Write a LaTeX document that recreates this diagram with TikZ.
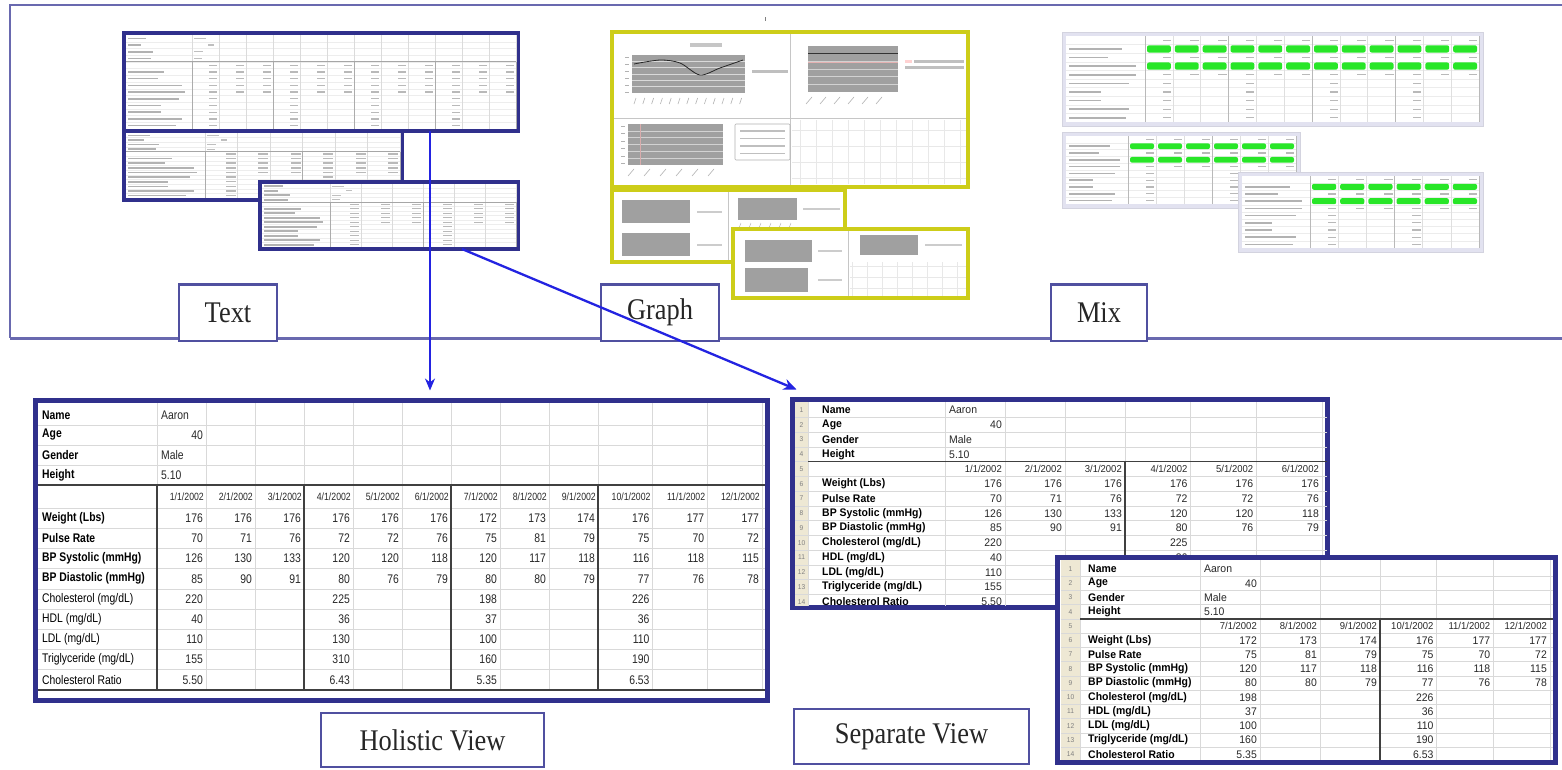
\documentclass[tikz,border=0pt]{standalone}
\usepackage{fontspec}
\setmainfont{Liberation Serif}
\newfontfamily\tabfont[FakeStretch=0.83]{Liberation Sans}
\newfontfamily\sepfont[FakeStretch=0.95]{Liberation Sans}
\newfontfamily\labfont[FakeStretch=0.88]{Liberation Serif}
\usetikzlibrary{arrows.meta,calc}
\definecolor{frameblue}{RGB}{48,48,140}
\definecolor{outerc}{RGB}{105,105,175}
\definecolor{labc}{RGB}{80,80,160}
\definecolor{arrc}{RGB}{35,35,225}
\definecolor{ylw}{RGB}{205,205,25}
\definecolor{grn}{RGB}{40,230,40}
\definecolor{lav}{RGB}{226,226,240}
\definecolor{beige}{RGB}{238,232,212}
\definecolor{chartg}{RGB}{160,160,160}
\definecolor{txtc}{RGB}{40,40,40}
\tikzset{
  thumbbox/.style={draw=frameblue, line width=3.5pt, fill=white, inner sep=0pt, outer sep=0pt},
  graphbox/.style={draw=ylw, line width=3.5pt, fill=white, inner sep=0pt, outer sep=0pt},
  mixbox/.style={draw=lav!85!gray, line width=1pt, fill=lav, inner sep=0pt, outer sep=0pt},
  bigframe/.style={draw=frameblue, line width=5pt, fill=white, inner sep=0pt, outer sep=0pt},
  viewlabel/.style={draw=labc, line width=1.5pt, fill=white, font=\labfont\fontsize{30}{30}\selectfont, text=black!85, inner sep=0pt, outer sep=0pt},
  gridl/.style={draw=gray!30, line width=0.5pt},
  thickl/.style={draw=black!75, line width=1.3pt},
  hlab/.style={font=\tabfont\fontsize{12.5}{12.5}\selectfont, anchor=west, inner sep=0pt, text=black},
  hlabb/.style={hlab, font=\tabfont\fontsize{12.5}{12.5}\selectfont\bfseries},
  hval/.style={font=\tabfont\fontsize{12.5}{12.5}\selectfont, anchor=east, inner sep=0pt, text=txtc},
  hdate/.style={font=\tabfont\fontsize{10.5}{10.5}\selectfont, anchor=east, inner sep=0pt, text=txtc},
  slab/.style={font=\sepfont\fontsize{11}{11}\selectfont\bfseries, anchor=west, inner sep=0pt, text=black},
  sval/.style={font=\sepfont\fontsize{11}{11}\selectfont, anchor=east, inner sep=0pt, text=txtc},
  svalw/.style={font=\sepfont\fontsize{11}{11}\selectfont, anchor=west, inner sep=0pt, text=txtc},
  sdate/.style={font=\sepfont\fontsize{10}{10}\selectfont, anchor=east, inner sep=0pt, text=txtc},
  rnum/.style={font=\sepfont\fontsize{7}{7}\selectfont, inner sep=0pt, text=gray},
  arrthin/.style={draw=arrc, line width=1.3pt, -{Stealth[length=12pt,width=10pt]}},
  arrthick/.style={draw=arrc, line width=2.3pt, -{Stealth[length=13pt,width=11pt]}},
}
% thumbnail table: x0,y0,x1,y1,label col end,ncols,group
\newcommand\ttab[7]{%
  \pgfmathsetmacro\tRH{(#4-#2-4)/14}%
  \pgfmathsetmacro\tCW{(#3-#5-2)/#6}%
  \pgfmathsetmacro\tYS{#2+2+4*\tRH}%
  \foreach \ii in {1,...,13}{%
    \pgfmathsetmacro\tYY{#2+2+\ii*\tRH}%
    \draw[gray!14, line width=0.4pt] (#1+2,\tYY) -- (#3-2,\tYY);
  }%
  \foreach \kk in {0,...,#6}{%
    \pgfmathsetmacro\tXX{#5+\kk*\tCW}%
    \draw[gray!28, line width=0.4pt] (\tXX,#2+2) -- (\tXX,#4-2);
  }%
  \foreach \kk in {0,#7,...,#6}{%
    \pgfmathsetmacro\tXX{#5+\kk*\tCW}%
    \draw[gray!65, line width=0.7pt] (\tXX,\tYS) -- (\tXX,#4-2);
  }%
  \draw[gray!70, line width=0.8pt] (#1+2,\tYS) -- (#3-2,\tYS);
  \foreach \ii/\ff in {0/0.3,1/0.22,2/0.42,3/0.38,5/0.6,6/0.5,7/0.9,8/0.95,9/0.85,10/0.55,11/0.55,12/0.9,13/0.8}{%
    \pgfmathsetmacro\tYY{#2+2+(\ii+0.5)*\tRH}%
    \pgfmathsetmacro\tXX{#1+4+\ff*(#5-#1-8)}%
    \fill[gray!60] (#1+4,\tYY-0.8) rectangle (\tXX,\tYY+0.8);
  }%
  \foreach \ii/\aa/\bb in {0/2/14,1/16/22,2/2/11,3/2/10}{%
    \pgfmathsetmacro\tYY{#2+2+(\ii+0.5)*\tRH}%
    \fill[gray!50] (#5+\aa,\tYY-0.7) rectangle (#5+\bb,\tYY+0.7);
  }%
  \foreach \ii in {4,...,13}{%
    \foreach \kk in {1,...,#6}{%
      \pgfmathtruncatemacro\tShow{(\ii<9)||(mod(\kk-1,#7)==0)}%
      \ifnum\tShow=1
        \pgfmathsetmacro\tYY{#2+2+(\ii+0.5)*\tRH}%
        \pgfmathsetmacro\tXX{#5+\kk*\tCW-2}%
        \fill[gray!55] (\tXX-0.3*\tCW,\tYY-0.7) rectangle (\tXX,\tYY+0.7);
      \fi
    }%
  }%
}
% mix table
\newcommand\mtab[7]{%
  \pgfmathsetmacro\tRH{(#4-#2-8)/10}%
  \pgfmathsetmacro\tCW{(#3-#5-4)/#6}%
  \fill[white] (#1+4,#2+4) rectangle (#3-4,#4-4);
  \foreach \ii in {1,...,9}{%
    \pgfmathsetmacro\tYY{#2+4+\ii*\tRH}%
    \draw[gray!15, line width=0.4pt] (#1+4,\tYY) -- (#3-4,\tYY);
  }%
  \foreach \kk in {0,...,#6}{%
    \pgfmathsetmacro\tXX{#5+\kk*\tCW}%
    \draw[gray!25, line width=0.4pt] (\tXX,#2+4) -- (\tXX,#4-4);
  }%
  \foreach \kk in {0,#7,...,#6}{%
    \pgfmathsetmacro\tXX{#5+\kk*\tCW}%
    \draw[gray!55, line width=0.6pt] (\tXX,#2+4) -- (\tXX,#4-4);
  }%
  \foreach \ii/\ff in {1/0.75,2/0.55,3/0.95,4/0.95,5/0.85,6/0.45,7/0.45,8/0.85,9/0.8}{%
    \pgfmathsetmacro\tYY{#2+4+(\ii+0.5)*\tRH}%
    \pgfmathsetmacro\tXX{#1+7+\ff*(#5-#1-12)}%
    \fill[gray!60] (#1+7,\tYY-0.8) rectangle (\tXX,\tYY+0.8);
  }%
  \foreach \kk in {1,...,#6}{%
    \pgfmathsetmacro\tXA{#5+(\kk-1)*\tCW+2}%
    \pgfmathsetmacro\tXB{#5+\kk*\tCW-2}%
    \foreach \ii in {1,3}{%
      \pgfmathsetmacro\tYY{#2+4+(\ii+0.5)*\tRH}%
      \fill[grn, rounded corners=2pt] (\tXA,\tYY-0.42*\tRH) rectangle (\tXB,\tYY+0.42*\tRH);
    }%
    \foreach \ii in {0,2,4}{%
      \pgfmathsetmacro\tYY{#2+4+(\ii+0.5)*\tRH}%
      \fill[gray!55] (\tXB-0.3*\tCW,\tYY-0.6) rectangle (\tXB,\tYY+0.6);
    }%
    \pgfmathtruncatemacro\tShow{mod(\kk-1,#7)==0}%
    \ifnum\tShow=1
      \foreach \ii in {5,...,9}{%
        \pgfmathsetmacro\tYY{#2+4+(\ii+0.5)*\tRH}%
        \fill[gray!55] (\tXB-0.3*\tCW,\tYY-0.6) rectangle (\tXB,\tYY+0.6);
      }%
    \fi
  }%
}
\begin{document}
\begin{tikzpicture}[x=1pt,y=-1pt]
\useasboundingbox (0,0) rectangle (1562,769);
\fill[white] (0,0) rectangle (1562,769);

% ---------- outer frame ----------
\draw[outerc, line width=1.3pt] (1562,5) -- (10,5) -- (10,338);
\draw[outerc, line width=3pt] (10,338) -- (1562,338);
\draw[gray, line width=0.8pt] (765,17) -- (765,21);

% ---------- Text thumbnails ----------
\node[thumbbox, minimum width=394pt, minimum height=98pt] (txtA) at (321,82) {};
\ttab{124}{33}{518}{131}{192}{12}{3}
\node[thumbbox, minimum width=278pt, minimum height=69pt] (txtB) at (263,165.5) {};
\ttab{124}{131}{402}{200}{205}{6}{3}
\node[thumbbox, minimum width=258pt, minimum height=67pt] (txtC) at (389,215.5) {};
\ttab{260}{182}{518}{249}{330}{6}{3}

% ---------- Graph thumbnails ----------
\node[graphbox, minimum width=356pt, minimum height=155pt] (g1) at (790,109.5) {};
\draw[gray!45, line width=0.6pt] (790,34) -- (790,185) (614,118) -- (966,118);
\fill[gray!45] (690,43) rectangle (722,47);
\fill[chartg] (632,55) rectangle (745,93);
\foreach \ii in {1,...,5}{\draw[gray!30, line width=0.3pt] (632,55+6.3*\ii) -- (745,55+6.3*\ii);}
\draw[gray!30!black, line width=0.8pt] plot[smooth] coordinates {(634,64) (660,60) (680,63) (700,75) (720,68) (743,60)};
\foreach \ii in {0,...,12}{\draw[gray!60, line width=0.6pt] (636+8.8*\ii,98) -- ++(-2,6);}
\foreach \ii in {0,...,5}{\draw[gray!60, line width=0.5pt] (625,57+7*\ii) -- (629,57+7*\ii);}
\fill[gray!50] (752,70) rectangle (788,73);
\fill[chartg] (808,46) rectangle (898,92);
\foreach \ii in {1,...,5}{\draw[gray!35, line width=0.3pt] (808,46+7.6*\ii) -- (898,46+7.6*\ii);}
\draw[gray!40!black, line width=0.7pt] (808,53) -- (898,53);
\draw[pink!80!gray, line width=0.9pt] (808,62) -- (898,62);
\foreach \ii in {0,...,5}{\draw[gray!60, line width=0.6pt] (812+14*\ii,97) -- ++(-6,7);}
\fill[pink!70] (905,60) rectangle (912,62.5);
\fill[gray!50] (914,60) rectangle (964,62.5);
\fill[gray!50] (905,66) rectangle (964,68.5);
\fill[chartg] (628,124) rectangle (723,165);
\foreach \ii in {1,...,5}{\draw[gray!35, line width=0.3pt] (628,124+6.8*\ii) -- (723,124+6.8*\ii);}
\draw[pink!70!gray, line width=0.6pt] (640,124) -- (640,165);
\foreach \ii in {0,...,5}{\draw[gray!60, line width=0.5pt] (621,126+7.5*\ii) -- (625,126+7.5*\ii);}
\foreach \ii in {0,...,5}{\draw[gray!60, line width=0.6pt] (634+16*\ii,169) -- ++(-6,7);}
\draw[gray!60, line width=0.6pt, rounded corners=1pt] (735,124) rectangle (790,160);
\foreach \ii in {0,...,3}{\fill[gray!50] (740,130+7.5*\ii) rectangle (785,131.5+7.5*\ii);}
\foreach \ii in {0,...,10}{\draw[gray!18, line width=0.4pt] (800+16*\ii,120) -- (800+16*\ii,184);}
\foreach \ii in {0,...,3}{\draw[gray!18, line width=0.4pt] (792,130+16*\ii) -- (966,130+16*\ii);}

\node[graphbox, minimum width=233pt, minimum height=72pt] (g2) at (728.5,226) {};
\draw[gray!45, line width=0.6pt] (728,192) -- (728,260);
\fill[chartg] (622,200) rectangle (690,223);
\fill[chartg] (622,233) rectangle (690,256);
\fill[gray!40] (697,211) rectangle (722,213);
\fill[gray!40] (697,244) rectangle (722,246);
\fill[chartg] (738,198) rectangle (797,220);
\foreach \ii in {0,...,5}{\draw[gray!55, line width=0.5pt] (741+10*\ii,223) -- ++(-2,5);}
\fill[gray!40] (803,208) rectangle (840,210);

\node[graphbox, minimum width=235pt, minimum height=69pt] (g3) at (850.5,263.5) {};
\draw[gray!45, line width=0.6pt] (848,231) -- (848,296);
\fill[chartg] (745,240) rectangle (812,262);
\fill[chartg] (745,268) rectangle (808,292);
\fill[gray!40] (818,250) rectangle (842,252);
\fill[gray!40] (818,279) rectangle (842,281);
\fill[chartg] (860,235) rectangle (918,255);
\fill[gray!40] (925,244) rectangle (962,246);
\foreach \ii in {0,...,7}{\draw[gray!18, line width=0.4pt] (852+15*\ii,262) -- (852+15*\ii,296);}
\foreach \ii in {0,...,2}{\draw[gray!18, line width=0.4pt] (850,266+11*\ii) -- (966,266+11*\ii);}

% ---------- Mix thumbnails ----------
\node[mixbox, minimum width=421pt, minimum height=94pt] (mix1) at (1272.5,79) {};
\mtab{1062}{32}{1483}{126}{1145}{12}{3}
\node[mixbox, minimum width=238pt, minimum height=76pt] (mix2) at (1181,170) {};
\mtab{1062}{132}{1300}{208}{1128}{6}{3}
\node[mixbox, minimum width=245pt, minimum height=80pt] (mix3) at (1360.5,212) {};
\mtab{1238}{172}{1483}{252}{1310}{6}{3}

% ---------- category labels ----------
\node[viewlabel, minimum width=98pt, minimum height=57pt] (textlbl) at (228,312.5) {Text};
\node[viewlabel, minimum width=118pt, minimum height=57pt] (graphlbl) at (660,312.5) {Graph};
\node[viewlabel, minimum width=96pt, minimum height=57pt] (mixlbl) at (1099,312.5) {Mix};
\foreach \nn in {textlbl,graphlbl,mixlbl}{\draw[labc, line width=3pt] (\nn.north west) -- (\nn.north east);}

% ---------- Holistic view ----------
\node[bigframe, minimum width=732pt, minimum height=300pt] (holi) at (401.5,550.5) {};
\foreach \yy in {425,445,465}{\draw[gridl] (38,\yy) -- (765,\yy);}
\foreach \ii in {0,...,8}{\pgfmathsetmacro\tYY{508+20.2*\ii}\draw[gridl] (38,\tYY) -- (765,\tYY);}
\draw[gridl] (157,403) -- (157,485);
\foreach \cc in {1,...,12}{%
  \pgfmathsetmacro\tXX{\cc<=9 ? 157+49*\cc : 598+54.67*(\cc-9)}%
  \draw[gridl] (\tXX,403) -- (\tXX,690);
}
\draw[thickl] (38,485) -- (765,485);
\draw[thickl] (38,690) -- (765,690);
\foreach \xx in {157,304,451,598}{\draw[thickl] (\xx,485) -- (\xx,690);}
\foreach \tLab [count=\rr] in {Name,Age,Gender,Height}{%
  \pgfmathsetmacro\tYY{395+20*\rr}%
  \node[hlabb] (hl\rr) at (42,\tYY) {\tLab};
}
\node[hlab, text=txtc] (hname) at (161,415) {Aaron};
\node[hval] (hage) at (203,435) {40};
\node[hlab, text=txtc] (hgender) at (161,455) {Male};
\node[hlab, text=txtc] (hheight) at (161,475) {5.10};
\foreach \cc in {1,...,12}{%
  \pgfmathsetmacro\tXX{\cc<=9 ? 157+49*\cc : 598+54.67*(\cc-9)}%
  \node[hdate] (hd\cc) at (\tXX-2,496.5) {\cc/1/2002};
}
\foreach \tLab [count=\rr] in {{Weight (Lbs)},{Pulse Rate},{BP Systolic (mmHg)},{BP Diastolic (mmHg)}}{%
  \pgfmathsetmacro\tYY{518.1+20.2*(\rr-1)}%
  \node[hlabb] (hr\rr) at (42,\tYY) {\tLab};
}
\foreach \tLab [count=\rr] in {{Cholesterol (mg/dL)},{HDL (mg/dL)},{LDL (mg/dL)},{Triglyceride (mg/dL)},{Cholesterol Ratio}}{%
  \pgfmathsetmacro\tYY{518.1+20.2*(\rr+3)}%
  \node[hlab] (hs\rr) at (42,\tYY) {\tLab};
}
\foreach \vals [count=\rr] in {{176,176,176,176,176,176,172,173,174,176,177,177},{70,71,76,72,72,76,75,81,79,75,70,72},{126,130,133,120,120,118,120,117,118,116,118,115},{85,90,91,80,76,79,80,80,79,77,76,78}}{%
  \foreach \vv [count=\cc] in \vals {%
    \pgfmathsetmacro\tXX{\cc<=9 ? 157+49*\cc : 598+54.67*(\cc-9)}%
    \pgfmathsetmacro\tYY{518.1+20.2*(\rr-1)}%
    \node[hval] (hv\rr-\cc) at (\tXX-3,\tYY) {\vv};
  }
}
\foreach \vals [count=\rr] in {{220,225,198,226},{40,36,37,36},{110,130,100,110},{155,310,160,190},{5.50,6.43,5.35,6.53}}{%
  \foreach \vv [count=\gi] in \vals {%
    \pgfmathsetmacro\tXX{\gi<=3 ? 157+49*(3*\gi-2) : 652.67}%
    \pgfmathsetmacro\tYY{518.1+20.2*(\rr+3)}%
    \node[hval] (hw\rr-\gi) at (\tXX-3,\tYY) {\vv};
  }
}

% ---------- Separate view 1 ----------
\node[bigframe, minimum width=535pt, minimum height=208pt] (sep1) at (1060,503.5) {};
\fill[beige] (795,402) rectangle (808,606);
\foreach \rr in {1,...,13}{\pgfmathsetmacro\tYY{410+14.75*(\rr-0.5)}\draw[gridl] (795,\tYY) -- (1327,\tYY);}
\foreach \cc in {0,...,6}{%
  \pgfmathsetmacro\tXX{\cc<=3 ? 945+60*\cc : 1125+65.67*(\cc-3)}%
  \draw[gridl] (\tXX,402) -- (\tXX,606);
}
\draw[gridl] (808,402) -- (808,606);
\draw[thickl] (808,461.6) -- (1327,461.6);
\draw[thickl] (1125,461.6) -- (1125,606);
\foreach \rr in {1,...,14}{\pgfmathsetmacro\tYY{410+14.75*(\rr-1)}\node[rnum] (sa\rr) at (801.5,\tYY) {\rr};}
\foreach \tLab [count=\rr] in {Name,Age,Gender,Height}{%
  \pgfmathsetmacro\tYY{410+14.75*(\rr-1)}%
  \node[slab] (sal\rr) at (822,\tYY) {\tLab};
}
\foreach \tLab [count=\rr] in {{Weight (Lbs)},{Pulse Rate},{BP Systolic (mmHg)},{BP Diastolic (mmHg)},{Cholesterol (mg/dL)},{HDL (mg/dL)},{LDL (mg/dL)},{Triglyceride (mg/dL)},{Cholesterol Ratio}}{%
  \pgfmathsetmacro\tYY{410+14.75*(\rr+4)}%
  \node[slab] (sar\rr) at (822,\tYY) {\tLab};
}
\node[svalw] (saname) at (949,410) {Aaron};
\node[sval] (saage) at (1002,424.75) {40};
\node[svalw] (sagender) at (949,439.5) {Male};
\node[svalw] (saheight) at (949,454.25) {5.10};
\foreach \cc in {1,...,6}{%
  \pgfmathsetmacro\tXX{\cc<=3 ? 945+60*\cc : 1125+65.67*(\cc-3)}%
  \node[sdate] (sad\cc) at (\tXX-3,469) {\cc/1/2002};
}
\foreach \vals [count=\rr] in {{176,176,176,176,176,176},{70,71,76,72,72,76},{126,130,133,120,120,118},{85,90,91,80,76,79}}{%
  \foreach \vv [count=\cc] in \vals {%
    \pgfmathsetmacro\tXX{\cc<=3 ? 945+60*\cc : 1125+65.67*(\cc-3)}%
    \pgfmathsetmacro\tYY{410+14.75*(\rr+4)}%
    \node[sval] (sav\rr-\cc) at (\tXX-3,\tYY) {\vv};
  }
}
\foreach \vals [count=\rr] in {{220,225},{40,36},{110,130},{155,310},{5.50,6.43}}{%
  \foreach \vv [count=\gi] in \vals {%
    \pgfmathsetmacro\tXX{\gi==1 ? 1005 : 1190.67}%
    \pgfmathsetmacro\tYY{410+14.75*(\rr+8)}%
    \node[sval] (saw\rr-\gi) at (\tXX-3,\tYY) {\vv};
  }
}

% ---------- Separate view 2 ----------
\node[bigframe, minimum width=498pt, minimum height=205pt] (sep2) at (1306.5,660) {};
\fill[beige] (1061,560) rectangle (1080,760);
\foreach \rr in {1,...,13}{\pgfmathsetmacro\tYY{569+14.25*(\rr-0.5)}\draw[gridl] (1061,\tYY) -- (1553,\tYY);}
\foreach \cc in {0,...,6}{%
  \pgfmathsetmacro\tXX{\cc<=3 ? 1200+60*\cc : 1380+56.67*(\cc-3)}%
  \draw[gridl] (\tXX,560) -- (\tXX,760);
}
\draw[gridl] (1080,560) -- (1080,760);
\draw[thickl] (1080,618.9) -- (1553,618.9);
\draw[thickl] (1380,618.9) -- (1380,760);
\foreach \rr in {1,...,14}{\pgfmathsetmacro\tYY{569+14.25*(\rr-1)}\node[rnum] (sb\rr) at (1070.5,\tYY) {\rr};}
\foreach \tLab [count=\rr] in {Name,Age,Gender,Height}{%
  \pgfmathsetmacro\tYY{569+14.25*(\rr-1)}%
  \node[slab] (sbl\rr) at (1088,\tYY) {\tLab};
}
\foreach \tLab [count=\rr] in {{Weight (Lbs)},{Pulse Rate},{BP Systolic (mmHg)},{BP Diastolic (mmHg)},{Cholesterol (mg/dL)},{HDL (mg/dL)},{LDL (mg/dL)},{Triglyceride (mg/dL)},{Cholesterol Ratio}}{%
  \pgfmathsetmacro\tYY{569+14.25*(\rr+4)}%
  \node[slab] (sbr\rr) at (1088,\tYY) {\tLab};
}
\node[svalw] (sbname) at (1204,569) {Aaron};
\node[sval] (sbage) at (1257,583.25) {40};
\node[svalw] (sbgender) at (1204,597.5) {Male};
\node[svalw] (sbheight) at (1204,611.75) {5.10};
\foreach \cc in {1,...,6}{%
  \pgfmathsetmacro\tXX{\cc<=3 ? 1200+60*\cc : 1380+56.67*(\cc-3)}%
  \pgfmathtruncatemacro\tMon{\cc+6}%
  \node[sdate] (sbd\cc) at (\tXX-3,626) {\tMon/1/2002};
}
\foreach \vals [count=\rr] in {{172,173,174,176,177,177},{75,81,79,75,70,72},{120,117,118,116,118,115},{80,80,79,77,76,78}}{%
  \foreach \vv [count=\cc] in \vals {%
    \pgfmathsetmacro\tXX{\cc<=3 ? 1200+60*\cc : 1380+56.67*(\cc-3)}%
    \pgfmathsetmacro\tYY{569+14.25*(\rr+4)}%
    \node[sval] (sbv\rr-\cc) at (\tXX-3,\tYY) {\vv};
  }
}
\foreach \vals [count=\rr] in {{198,226},{37,36},{100,110},{160,190},{5.35,6.53}}{%
  \foreach \vv [count=\gi] in \vals {%
    \pgfmathsetmacro\tXX{\gi==1 ? 1260 : 1436.67}%
    \pgfmathsetmacro\tYY{569+14.25*(\rr+8)}%
    \node[sval] (sbw\rr-\gi) at (\tXX-3,\tYY) {\vv};
  }
}

% ---------- view labels ----------
\node[viewlabel, minimum width=223pt, minimum height=54pt] (holilbl) at (432.5,740) {Holistic View};
\node[viewlabel, minimum width=235pt, minimum height=55pt] (seplbl) at (911.5,736.5) {Separate View};

% ---------- arrows ----------
\draw[arrthin] ([xshift=109pt]txtA.south) -- ([xshift=28.5pt,yshift=10pt]holi.north);
\draw[arrthick] ([xshift=73pt]txtC.south) -- ([xshift=4pt,yshift=10pt]sep1.north west);
\end{tikzpicture}
\end{document}
